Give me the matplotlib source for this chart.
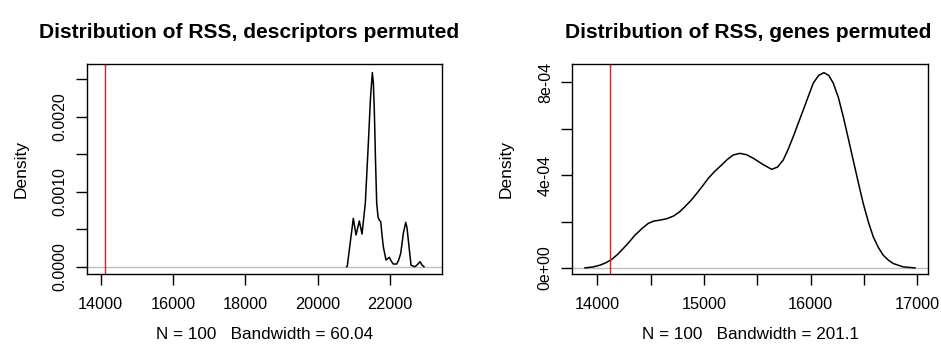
import matplotlib
matplotlib.use("Agg")
import matplotlib.pyplot as plt

# values
desc_x = [20803, 20819, 20900, 20985, 21060, 21151, 21226, 21317, 21400, 21460, 21511,
          21540, 21566, 21600, 21632, 21670, 21704, 21743, 21780, 21815, 21889, 21940,
          21981, 22040, 22091, 22185, 22240, 22296, 22370, 22434, 22470, 22506, 22581,
          22691, 22760, 22830, 22890, 22940]
desc_y = [0.0, 0.00001, 0.00032, 0.000645, 0.000423, 0.00061, 0.000436, 0.000845, 0.00164,
          0.00225, 0.00259, 0.00245, 0.00209, 0.0014, 0.000845, 0.00066, 0.000623, 0.0006,
          0.00042, 0.000267, 0.000089, 0.00011, 0.000125, 0.00007, 0.000036, 0.000036,
          0.00009, 0.000178, 0.00045, 0.000592, 0.00052, 0.000356, 0.00002, 0.0, 0.00003,
          0.000067, 0.00002, 0.0]

gene_x = [13885, 13960, 14025, 14080, 14135, 14190, 14244, 14300, 14353, 14420, 14478,
          14530, 14588, 14650, 14712, 14770, 14822, 14880, 14932, 14990, 15040, 15100,
          15166, 15220, 15275, 15337, 15400, 15462, 15550, 15635, 15690, 15743, 15790,
          15837, 15885, 15931, 15980, 16025, 16075, 16125, 16170, 16212, 16260, 16306,
          16352, 16399, 16446, 16493, 16540, 16587, 16635, 16680, 16730, 16774, 16868, 16978]
gene_y = [0.0, 0.000004, 0.0000117, 0.000022, 0.0000363, 0.000058, 0.0000838, 0.000112,
          0.000141, 0.000170, 0.000192, 0.000202, 0.000206, 0.000212, 0.000223, 0.000241,
          0.000264, 0.000292, 0.000321, 0.000355, 0.000386, 0.000416, 0.000444, 0.000468,
          0.000487, 0.000494, 0.000488, 0.000473, 0.000447, 0.000425, 0.000435, 0.000465,
          0.000512, 0.000566, 0.000625, 0.000681, 0.000742, 0.000797, 0.000830, 0.000842,
          0.000830, 0.000797, 0.000735, 0.000652, 0.000560, 0.000465, 0.000370, 0.000278,
          0.000200, 0.000134, 0.000088, 0.0000549, 0.000033, 0.000019, 0.0000043, 0.0]

observed_rss = 14120

desc_xticks = [14000, 16000, 18000, 20000, 22000]
desc_yticks = [0.0, 0.0005, 0.0010, 0.0015, 0.0020, 0.0025]
desc_ylabels = ["0.0000", "", "0.0010", "", "0.0020", ""]
gene_xticks = [14000, 14500, 15000, 15500, 16000, 16500, 17000]
gene_xlabels = ["14000", "", "15000", "", "16000", "", "17000"]
gene_yticks = [0.0, 2e-4, 4e-4, 6e-4, 8e-4]
gene_ylabels = ["0e+00", "", "4e-04", "", "8e-04"]

plt.rcParams["font.family"] = ["Liberation Sans", "DejaVu Sans"]

fig = plt.figure(figsize=(9.41, 3.59), dpi=100)
ax1 = fig.add_axes([87.3 / 941, 1 - 274.3 / 359, 355 / 941, 210 / 359])
ax2 = fig.add_axes([572.3 / 941, 1 - 274.3 / 359, 356 / 941, 210 / 359])

panels = [
    (ax1, desc_x, desc_y, (13629, 23446), (-0.000101, 0.0027),
     desc_xticks, [str(t) for t in desc_xticks], desc_yticks, desc_ylabels,
     "Distribution of RSS, descriptors permuted", "N = 100   Bandwidth = 60.04", 0.457),
    (ax2, gene_x, gene_y, (13766, 17103), (-0.0000276, 0.000878),
     gene_xticks, gene_xlabels, gene_yticks, gene_ylabels,
     "Distribution of RSS, genes permuted", "N = 100   Bandwidth = 201.1", 0.495),
]

for ax, xs, ys, xl, yl, xt, xtl, yt, ytl, title, sub, tx in panels:
    ax.axhline(0, color="#bebebe", lw=1)
    ax.plot(xs, ys, color="black", lw=1.1)
    ax.axvline(observed_rss, color="#e02020", lw=1)
    ax.set_xlim(*xl)
    ax.set_ylim(*yl)
    ax.set_xticks(xt)
    ax.set_xticklabels(xtl, fontsize=11.7)
    ax.set_yticks(yt)
    ax.set_yticklabels(ytl, fontsize=11.5, rotation=90, va="center")
    ax.tick_params(direction="out", length=8, width=1, color="black")
    ax.tick_params(axis="x", pad=8.5)
    ax.tick_params(axis="y", pad=6)
    for s in ax.spines.values():
        s.set_linewidth(1)
        s.set_color("black")
    t = ax.set_title(title, fontsize=15.1, fontweight="bold", pad=19)
    t.set_x(tx)
    ax.set_xlabel(sub, fontsize=12.3)
    ax.xaxis.set_label_coords(0.5, -0.251)
    ax.set_ylabel("Density", fontsize=12.5)
    ax.yaxis.set_label_coords(-0.164, 0.5)

fig.savefig("out.png", dpi=100)
